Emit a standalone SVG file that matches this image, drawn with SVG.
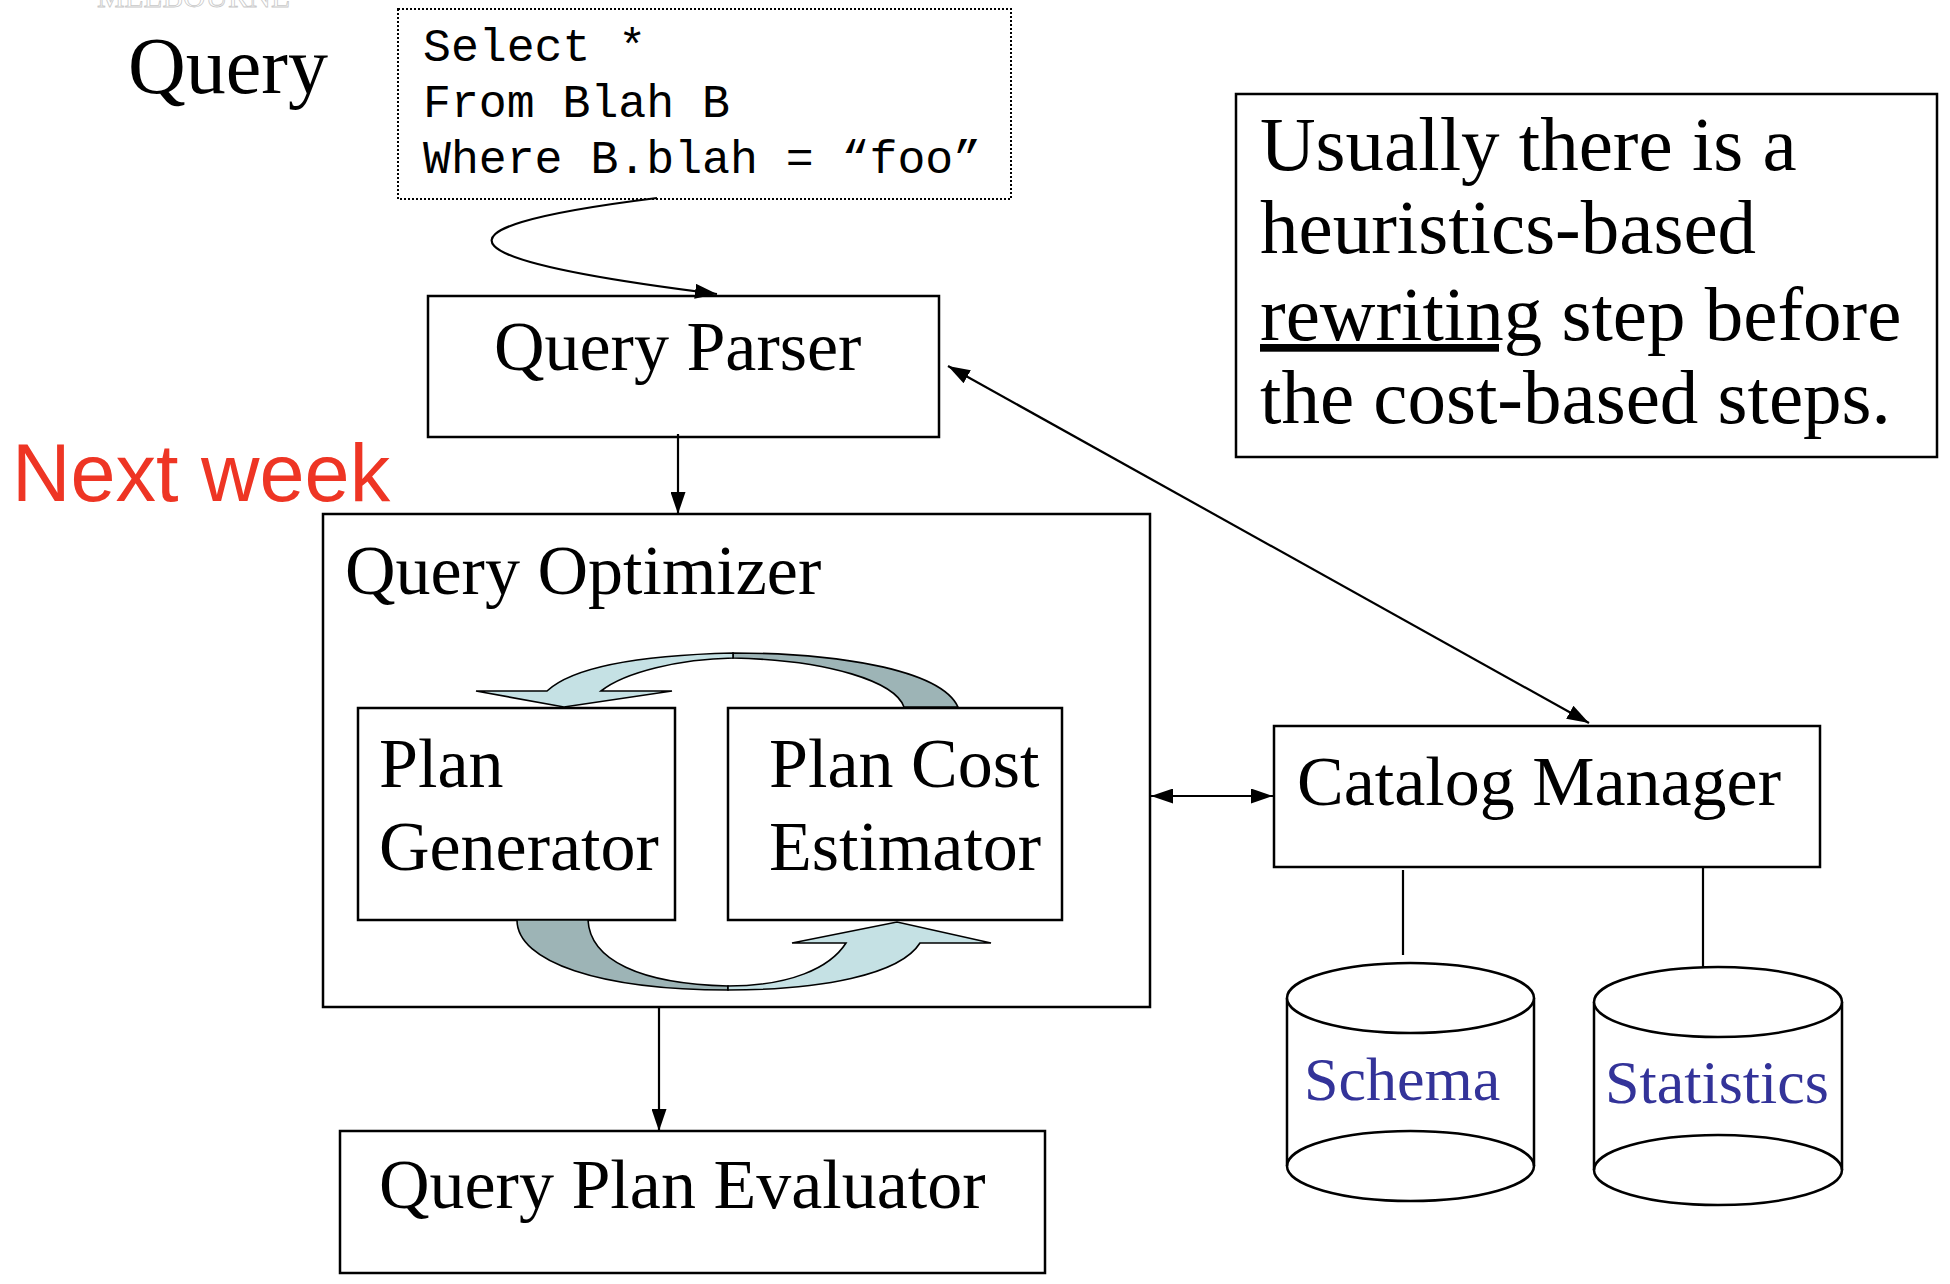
<svg xmlns="http://www.w3.org/2000/svg" width="1950" height="1284" viewBox="0 0 1950 1284">
<defs>
<style>
.box{fill:#fff;stroke:#000;stroke-width:2.5}
.t{font-family:"Liberation Serif","Times New Roman",serif;font-size:70px;fill:#000}
.big{font-size:80px}
.mono{font-family:"Liberation Mono","Courier New",monospace;font-size:46.5px;fill:#000}
.note{font-family:"Palatino Linotype","Book Antiqua",Palatino,"Liberation Serif",serif;font-size:77px;fill:#000}
.db{font-family:"Liberation Serif","Times New Roman",serif;font-size:62px;fill:#333399}
.conn{fill:none;stroke:#000;stroke-width:2.2}
.cyl{fill:#fff;stroke:#000;stroke-width:2.5}
.light{fill:#C5E1E4;stroke:#000;stroke-width:1.6;stroke-linejoin:miter}
.dark{fill:#9DB4B6;stroke:#000;stroke-width:1.6}
</style>
<marker id="ah" viewBox="0 0 22 15" refX="22" refY="7.5" markerWidth="22" markerHeight="15" orient="auto-start-reverse" markerUnits="userSpaceOnUse"><path d="M0,0 L22,7.5 L0,15 z" fill="#000"/></marker>
</defs>
<rect width="1950" height="1284" fill="#fff"/>
<text x="97" y="7" font-family="Liberation Serif,serif" font-size="31" fill="#fff" stroke="#c8c8c8" stroke-width="0.8">MELBOURNE</text>
<text id="query-label" class="t big" x="128" y="93">Query</text>
<text id="next-week" x="12" y="501" font-family="Liberation Sans,Arial,sans-serif" font-size="81" fill="#EE3524">Next week</text>

<g id="sql">
<rect x="398" y="9" width="613" height="190" fill="#fff" stroke="#000" stroke-width="2" stroke-dasharray="2 2"/>
<text class="mono" x="423" y="61">Select *</text>
<text class="mono" x="423" y="117">From Blah B</text>
<text class="mono" x="423" y="173">Where B.blah = “foo”</text>
</g>

<g id="query-parser">
<rect class="box" x="428" y="296" width="511" height="141"/>
<text class="t" x="494" y="370">Query Parser</text>
</g>

<g id="query-optimizer">
<rect class="box" x="323" y="514" width="827" height="493"/>
<text class="t" x="345" y="594">Query Optimizer</text>
</g>

<g id="plan-generator">
<rect class="box" x="358" y="708" width="317" height="212"/>
<text class="t" x="379" y="787">Plan</text>
<text class="t" x="379" y="870">Generator</text>
</g>

<g id="plan-cost-estimator">
<rect class="box" x="728" y="708" width="334" height="212"/>
<text class="t" x="769" y="787">Plan Cost</text>
<text class="t" x="769" y="870">Estimator</text>
</g>

<g id="cycle-arrows">
<path class="dark" d="M733,653 C830,653 940,668 958,707 L904,707 C895,682 830,660 733,658 Z"/>
<path class="light" d="M733,653 C650,655 575,665 547,691 L476,691 L564,707 L672,691 L601,691 C625,672 680,659 733,658 Z"/>
<path class="dark" d="M517,920 C517,962 600,990 728,990 L728,986 C640,984 590,960 588,920 Z"/>
<path class="light" d="M728,990 C820,990 900,975 920,943 L991,943 L897,922 L792,943 L846,943 C830,968 790,986 728,986 Z"/>
</g>

<g id="catalog-manager">
<rect class="box" x="1274" y="726" width="546" height="141"/>
<text class="t" x="1297" y="805">Catalog Manager</text>
</g>

<g id="schema">
<path class="cyl" d="M1287,998 L1287,1166 A123.5,35 0 0 0 1534,1166 L1534,998"/>
<ellipse class="cyl" cx="1410.5" cy="998" rx="123.5" ry="35"/>
<path fill="none" stroke="#000" stroke-width="2.5" d="M1287,1166 A123.5,35 0 0 1 1534,1166"/>
<text class="db" x="1304" y="1100">Schema</text>
</g>

<g id="statistics">
<path class="cyl" d="M1594,1002 L1594,1170 A124,35 0 0 0 1842,1170 L1842,1002"/>
<ellipse class="cyl" cx="1718" cy="1002" rx="124" ry="35"/>
<path fill="none" stroke="#000" stroke-width="2.5" d="M1594,1170 A124,35 0 0 1 1842,1170"/>
<text class="db" x="1605" y="1103">Statistics</text>
</g>

<g id="query-plan-evaluator">
<rect class="box" x="340" y="1131" width="705" height="142"/>
<text class="t" x="379" y="1208">Query Plan Evaluator</text>
</g>

<g id="note">
<rect class="box" x="1236" y="94" width="701" height="363"/>
<text class="note" x="1260" y="170">Usually there is a</text>
<text class="note" x="1260" y="253">heuristics-based</text>
<text class="note" x="1260" y="340"><tspan text-decoration="underline">rewriting</tspan> step before</text>
<text class="note" x="1260" y="423">the cost-based steps.</text>
</g>

<g id="connectors">
<path class="conn" d="M657,198 C400,230 460,262 717,294" marker-end="url(#ah)"/>
<line class="conn" x1="678" y1="434" x2="678" y2="514" marker-end="url(#ah)"/>
<line class="conn" x1="948" y1="366" x2="1589" y2="723" marker-start="url(#ah)" marker-end="url(#ah)"/>
<line class="conn" x1="1151" y1="796" x2="1273" y2="796" marker-start="url(#ah)" marker-end="url(#ah)"/>
<line class="conn" x1="659" y1="1007" x2="659" y2="1131" marker-end="url(#ah)"/>
<line class="conn" x1="1403" y1="870" x2="1403" y2="955"/>
<line class="conn" x1="1703" y1="867" x2="1703" y2="968"/>
</g>
</svg>
